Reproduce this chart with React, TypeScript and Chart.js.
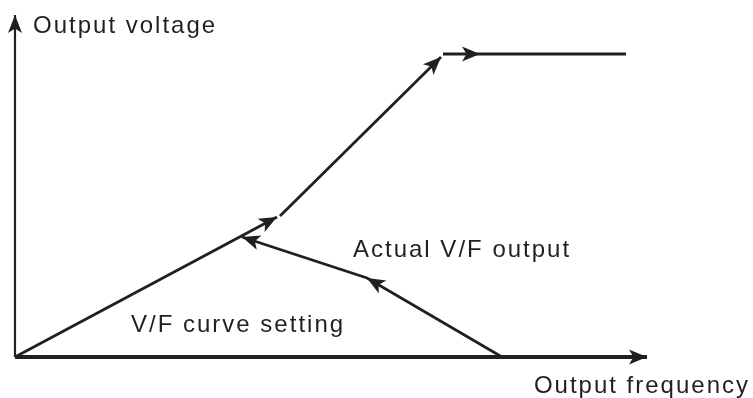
import React, { useEffect, useRef } from "react";
import { Chart, registerables } from "chart.js";

Chart.register(...registerables);

// Diagram coordinates: x = output frequency, y = output voltage (origin at axes crossing)
const frequencyAxis = [
  { x: 0, y: 0 },
  { x: 632, y: 0 },
];
const voltageAxis = [
  { x: 0, y: 0 },
  { x: 0, y: 342 },
];
const vfSettingLow = [
  { x: 0, y: 0 },
  { x: 262, y: 140 },
];
const vfSettingHigh = [
  { x: 265, y: 141 },
  { x: 426, y: 300 },
];
const vfSettingFlat = [
  { x: 428, y: 303 },
  { x: 465, y: 303 },
  { x: 611, y: 303 },
];
const actualOutput = [
  { x: 487, y: 0 },
  { x: 352, y: 79 },
  { x: 227, y: 120 },
];

const yAxisTitle = "Output voltage";
const xAxisTitle = "Output frequency";
const actualLabel = "Actual V/F output";
const settingLabel = "V/F curve setting";

const INK = "#231f20";

const arrowPlugin = {
  id: "arrowHeads",
  afterDatasetsDraw(chart: any) {
    const ctx = chart.ctx;
    chart.data.datasets.forEach((ds: any, i: number) => {
      const meta = chart.getDatasetMeta(i);
      (ds.arrowAt || []).forEach((idx: number) => {
        const p = meta.data[idx];
        const q = meta.data[idx - 1];
        if (!p || !q) return;
        const a = Math.atan2(p.y - q.y, p.x - q.x);
        const L = ds.arrowLen || 18;
        const W = ds.arrowHalf || 7.5;
        const N = 4.5;
        ctx.save();
        ctx.translate(p.x, p.y);
        ctx.rotate(a);
        ctx.beginPath();
        ctx.moveTo(0, 0);
        ctx.lineTo(-L, -W);
        ctx.lineTo(-L + N, 0);
        ctx.lineTo(-L, W);
        ctx.closePath();
        ctx.fillStyle = INK;
        ctx.fill();
        ctx.restore();
      });
    });
  },
};

const textPlugin = {
  id: "diagramText",
  afterDraw(chart: any) {
    const ctx = chart.ctx;
    ctx.save();
    ctx.fillStyle = INK;
    ctx.font = '24px "Liberation Sans", Arial, sans-serif';
    (ctx as any).letterSpacing = "2px";
    ctx.textBaseline = "alphabetic";
    ctx.textAlign = "left";
    ctx.fillText(yAxisTitle, 33, 33);
    ctx.fillText(actualLabel, 353, 257);
    ctx.fillText(settingLabel, 131, 332);
    ctx.textAlign = "right";
    ctx.fillText(xAxisTitle, 750, 393);
    ctx.restore();
  },
};

const line = (data: any[], width: number, arrowAt: number[], extra: any = {}) => ({
  data,
  showLine: true,
  borderColor: INK,
  backgroundColor: INK,
  borderWidth: width,
  pointRadius: 0,
  pointHoverRadius: 0,
  tension: 0,
  fill: false,
  borderCapStyle: "butt",
  arrowAt,
  ...extra,
});

export default function App() {
  const ref = useRef<HTMLCanvasElement>(null);
  useEffect(() => {
    if (!ref.current) return;
    const chart = new Chart(ref.current, {
      type: "scatter",
      data: {
        datasets: [
          line(frequencyAxis, 4, [1], { arrowLen: 18, arrowHalf: 7.5 }),
          line(voltageAxis, 2.2, [1], { arrowLen: 18, arrowHalf: 7 }),
          line(vfSettingLow, 2.8, [1]),
          line(vfSettingHigh, 2.8, [1]),
          line(vfSettingFlat, 3, [1]),
          line(actualOutput, 2.8, [1, 2]),
        ] as any,
      },
      options: {
        responsive: false,
        devicePixelRatio: 1,
        animation: false,
        events: [],
        layout: { padding: 0 },
        plugins: {
          legend: { display: false },
          tooltip: { enabled: false },
        },
        scales: {
          x: { type: "linear", display: false, min: -15, max: 738 },
          y: { type: "linear", display: false, min: -41, max: 357 },
        },
      },
      plugins: [arrowPlugin, textPlugin],
    });
    return () => chart.destroy();
  }, []);
  return (
    <div style={{ position: "absolute", left: 0, top: 0, width: 753, height: 398, background: "#fff" }}>
      <canvas ref={ref} width={753} height={398} />
    </div>
  );
}
